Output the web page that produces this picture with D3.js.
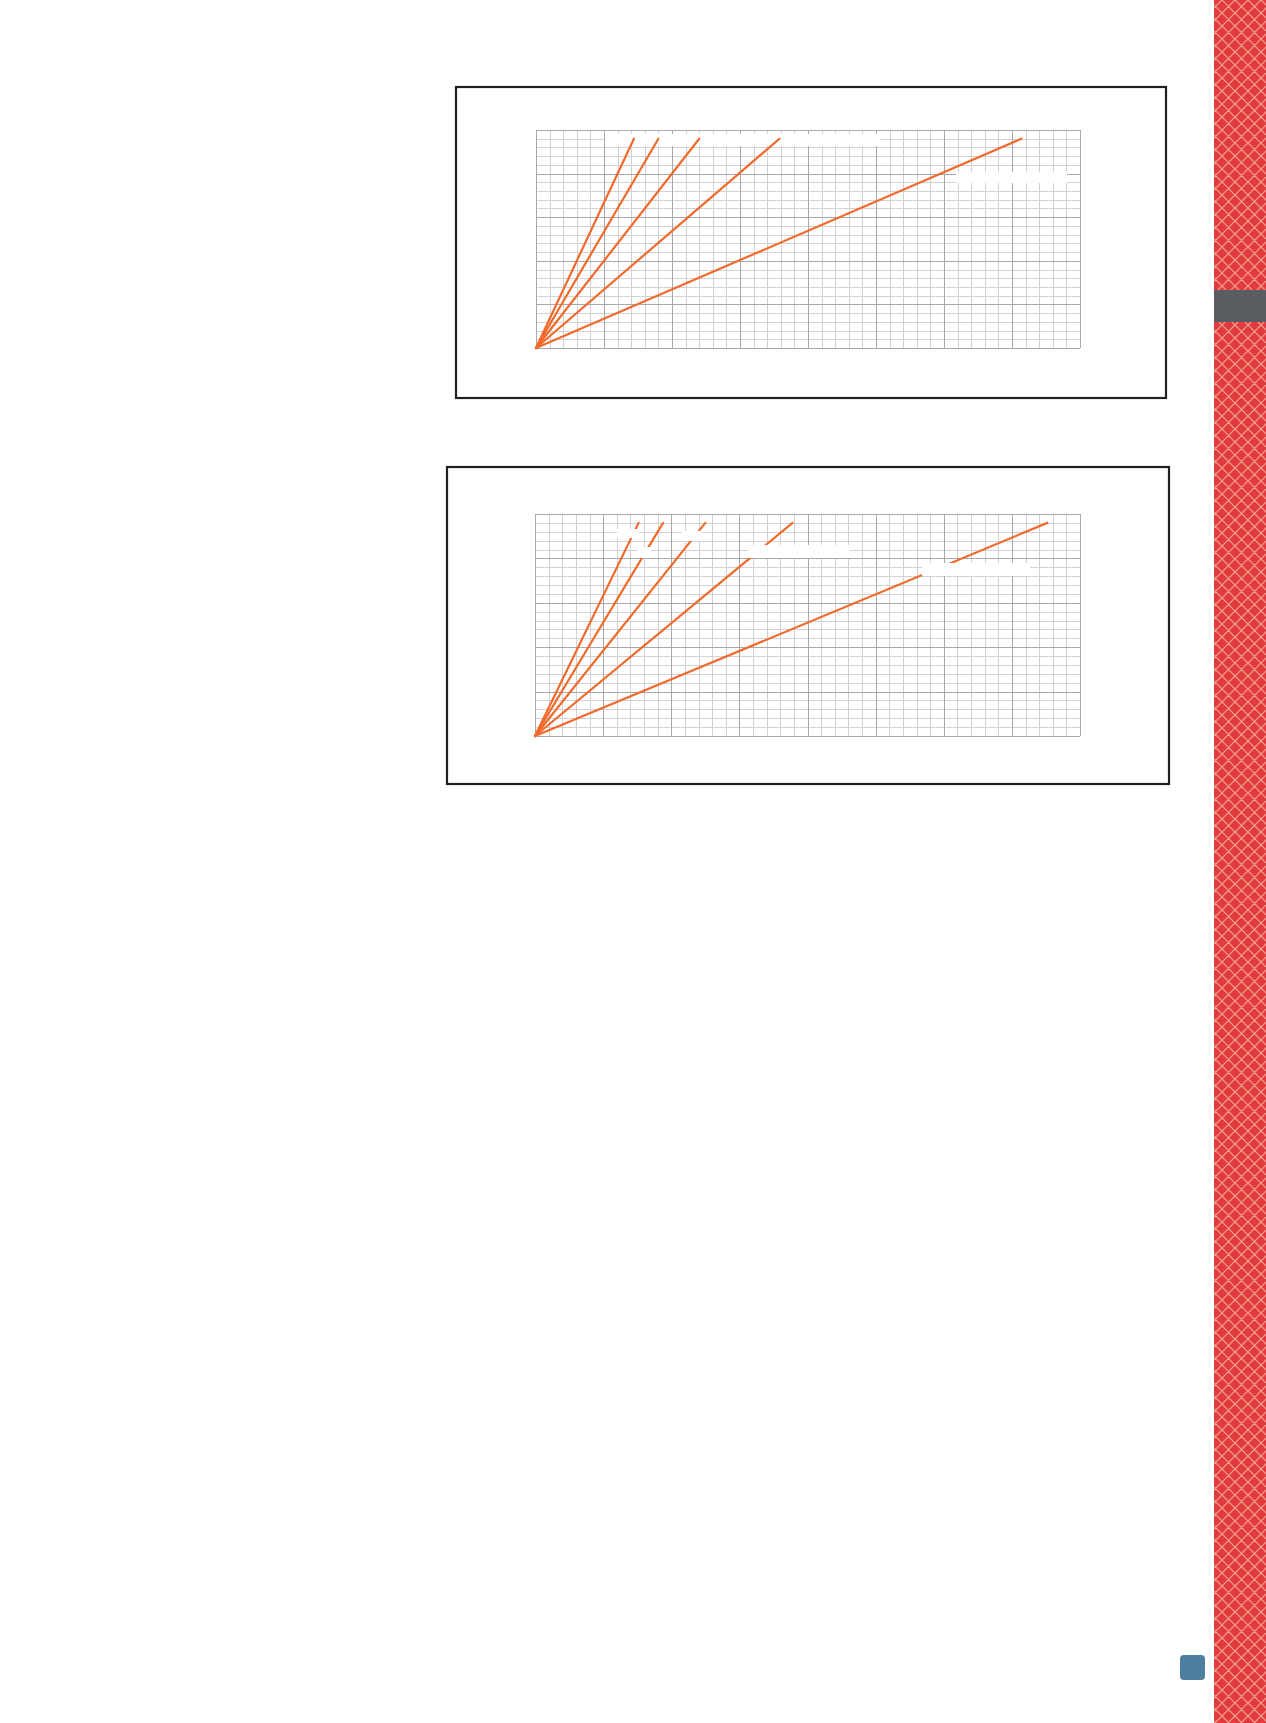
<!DOCTYPE html>
<html>
<head>
<meta charset="utf-8">
<script src="https://cdn.jsdelivr.net/npm/d3@7"></script>
<style>
  html, body { margin: 0; padding: 0; background: #fff; }
  svg { display: block; }
</style>
</head>
<body>
<svg id="page" width="1266" height="1723"></svg>
<script>
// ---- data ----
const xDomain = [0, 40];          // grid units along x
const yDomain = [0, 25];          // grid units along y
const minorStep = 1;
const majorStep = 5;
const seriesNames = ["1:5", "1:4", "1:3", "1:2", "1:1"];
const chart1EndX = [7.2, 9.0, 12.0, 17.9, 35.7];
const chart1EndY = [24, 24, 24, 24, 24];
const chart2EndX = [7.6, 9.4, 12.5, 18.9, 37.6];
const chart2EndY = [24, 24, 24, 24, 24];

// ---- drawing ----
const svg = d3.select("#page");

// side strip pattern
const T = 13;
const defs = svg.append("defs");
const pat = defs.append("pattern").attr("id", "hatch")
  .attr("patternUnits", "userSpaceOnUse").attr("width", T).attr("height", T);
pat.append("rect").attr("width", T).attr("height", T).attr("fill", "#e13b3f");
pat.append("path").attr("d", `M0,0 L${T},${T} M${T},0 L0,${T} M-1,${T-1} L1,${T+1} M${T-1},-1 L${T+1},1 M-1,1 L1,-1 M${T-1},${T+1} L${T+1},${T-1}`)
  .attr("stroke", "#f4a48e").attr("stroke-width", 1.2);

svg.append("rect").attr("x", 1214).attr("y", 0).attr("width", 52).attr("height", 1723).attr("fill", "url(#hatch)");
svg.append("rect").attr("x", 1214).attr("y", 290).attr("width", 52).attr("height", 32).attr("fill", "#595c61");
svg.append("rect").attr("x", 1180).attr("y", 1655).attr("width", 25).attr("height", 25).attr("rx", 4).attr("fill", "#4e7ea0");

function drawChart(cfg) {
  const g = svg.append("g");
  g.append("rect").attr("x", cfg.box[0]).attr("y", cfg.box[1])
    .attr("width", cfg.box[2]).attr("height", cfg.box[3])
    .attr("fill", "#fff").attr("stroke", "#231f20").attr("stroke-width", 2.2);

  const x = d3.scaleLinear().domain(xDomain).range([cfg.plot[0], cfg.plot[0] + cfg.plot[2]]);
  const y = d3.scaleLinear().domain(yDomain).range([cfg.plot[1] + cfg.plot[3], cfg.plot[1]]);
  const h = cfg.plot[3], w = cfg.plot[2];

  const minorX = d3.range(xDomain[0], xDomain[1] + 0.001, minorStep).filter(v => v % majorStep !== 0);
  const majorX = d3.range(xDomain[0], xDomain[1] + 0.001, majorStep);
  const minorY = d3.range(yDomain[0], yDomain[1] + 0.001, minorStep).filter(v => v % majorStep !== 0);
  const majorY = d3.range(yDomain[0], yDomain[1] + 0.001, majorStep);

  function grid(axis, vals, color, width, transform) {
    const gg = g.append("g").attr("transform", transform)
      .call(axis.tickValues(vals).tickFormat("").tickSizeOuter(0));
    gg.select(".domain").remove();
    gg.selectAll(".tick line").attr("stroke", color).attr("stroke-width", width)
      .attr("shape-rendering", "crispEdges");
  }
  grid(d3.axisBottom(x).tickSize(-h), minorX, "#d2d2d2", 1, `translate(0,${cfg.plot[1] + h})`);
  grid(d3.axisLeft(y).tickSize(-w), minorY, "#d2d2d2", 1, `translate(${cfg.plot[0]},0)`);
  grid(d3.axisBottom(x).tickSize(-h), majorX, "#a9a9a9", 1, `translate(0,${cfg.plot[1] + h})`);
  grid(d3.axisLeft(y).tickSize(-w), majorY, "#a9a9a9", 1, `translate(${cfg.plot[0]},0)`);

  const masks = g.append("g");
  cfg.masks.forEach(m => {
    masks.append("rect").attr("x", m[0]).attr("y", m[1]).attr("width", m[2]).attr("height", m[3]).attr("fill", "#fff");
  });

  const lines = g.append("g");
  const line = d3.line().x(d => x(d[0])).y(d => y(d[1]));
  seriesNames.forEach((name, i) => {
    lines.append("path")
      .datum([[0, 0], [cfg.endX[i], cfg.endY[i]]])
      .attr("d", line)
      .attr("fill", "none")
      .attr("stroke", "#f16a2b")
      .attr("stroke-width", 2.2)
      .attr("stroke-linecap", "round");
  });

  if (cfg.topMasks) {
    cfg.topMasks.forEach(m => {
      g.append("rect").attr("x", m[0]).attr("y", m[1]).attr("width", m[2]).attr("height", m[3]).attr("fill", "#fff");
    });
  }
}

drawChart({
  box: [456, 87, 710, 311],
  plot: [536, 130, 544, 218],
  endX: chart1EndX, endY: chart1EndY,
  masks: [[605, 134, 275, 12], [956, 172, 111, 11]]
});

drawChart({
  box: [447, 467, 722, 317],
  plot: [535, 514, 545, 222],
  endX: chart2EndX, endY: chart2EndY,
  masks: [],
  topMasks: [[617, 529, 22, 9], [682, 531, 20, 10], [637, 547, 14, 11], [748, 545, 102, 13], [922, 563, 108, 13]]
});
</script>
</body>
</html>
